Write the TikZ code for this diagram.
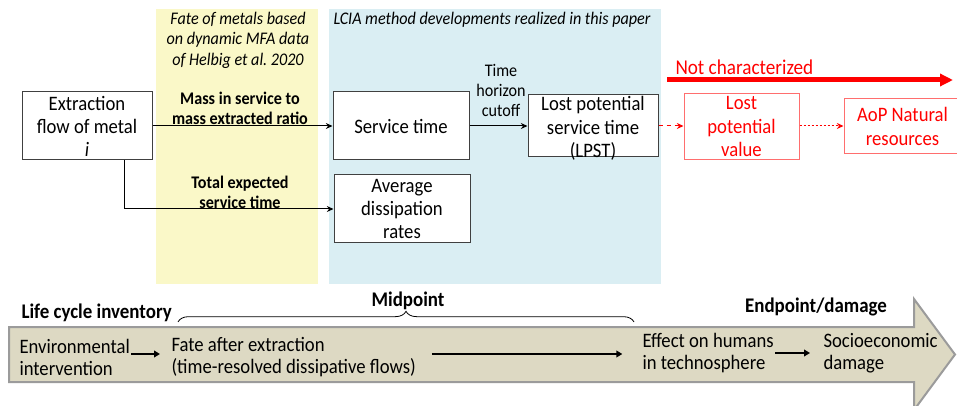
\documentclass[tikz,border=0pt]{standalone}
\usepackage{fontspec}
\setmainfont{Carlito}[FakeStretch=0.91]
\usetikzlibrary{arrows.meta,decorations.pathreplacing}

\definecolor{fateyellow}{RGB}{250,248,200}
\definecolor{lciablue}{RGB}{218,238,243}
\definecolor{notred}{RGB}{255,0,0}
\definecolor{redline}{RGB}{255,110,110}
\definecolor{tanfill}{RGB}{221,217,195}
\definecolor{tanline}{RGB}{155,155,155}
\definecolor{boxline}{RGB}{64,64,64}

\tikzset{every picture/.style={line width=0.75pt}}
\tikzset{
  flowbox/.style={draw=boxline, fill=white, inner sep=0pt, align=center, font=\fontsize{15.4}{17.3}\selectfont},
  redbox/.style={draw=redline, fill=white, inner sep=0pt, align=center, text=notred, font=\fontsize{15.4}{17.5}\selectfont},
  ratiolabel/.style={inner sep=0.75pt, align=center, font=\fontsize{13.3}{15}\selectfont\bfseries},
  headlabel/.style={inner sep=0.75pt, align=center, font=\fontsize{13.3}{15.4}\selectfont\itshape},
  cutlabel/.style={inner sep=0.75pt, align=center, font=\fontsize{13.3}{15}\selectfont},
  stagelabel/.style={inner sep=0.75pt, align=left, font=\fontsize{15.4}{16.5}\selectfont},
  phaselabel/.style={inner sep=0.75pt, font=\fontsize{15.6}{17}\selectfont\bfseries},
  flowarrow/.style={-{Stealth[length=5pt,width=4.5pt]}, draw=black},
  redarrow/.style={-{Stealth[length=5pt,width=4.5pt]}, draw=notred},
  stagearrow/.style={-{Triangle[length=4.5pt,width=5pt]}, line width=1.5pt},
}

\begin{document}
\begin{tikzpicture}[x=0.75pt,y=0.75pt,yscale=-1,xscale=1]
\useasboundingbox (0,0) rectangle (957,406);

%Shape: Rectangle [fate band]
\fill[fateyellow] (156,9) rectangle (318,284);
%Shape: Rectangle [lcia band]
\fill[lciablue] (329,9) rectangle (661,284);

% Text Node
\node[headlabel] (fatehead) at (238,40) {Fate of metals based\\on dynamic MFA data\\of Helbig et al.\ 2020};
% Text Node
\node[headlabel, anchor=west] (lciahead) at (332,20) {LCIA method developments realized in this paper};

%Shape: Rectangle [boxes]
\node[flowbox, minimum width=97.5pt, minimum height=51pt] (extract) at (87,126) {Extraction\\flow of metal\\\textit{i}};
\node[flowbox, minimum width=102pt, minimum height=51pt] (service) at (401,126) {Service time};
\node[flowbox, minimum width=102pt, minimum height=51pt, font=\fontsize{15.4}{17.6}\selectfont] (avgdiss) at (402,209) {Average\\dissipation\\rates};
\node[flowbox, minimum width=97.5pt, minimum height=46.5pt] (lpst) at (593,126) {};
\node[inner sep=0pt, align=center, font=\fontsize{15.4}{17.6}\selectfont] (lpsttext) at (593,128.5) {Lost potential\\service time\\(LPST)};
\node[redbox, minimum width=86.25pt, minimum height=49.5pt] (lpv) at (741.5,126.5) {Lost\\potential\\value};
\node[redbox, minimum width=87.75pt, minimum height=41.25pt] (aop) at (902.5,126.5) {AoP Natural\\resources};

%Straight Lines [connectors]
\draw[flowarrow] (extract) -- (service);
\draw[flowarrow] ([xshift=-21pt]extract.south east) |- (avgdiss.west);
\draw[flowarrow] (service) -- (lpst);
\draw[redarrow, dash pattern={on 3.5pt off 2.5pt}] (lpst) -- (lpst -| lpv.west);
\draw[redarrow, dash pattern={on 1.5pt off 1.5pt}] (lpst -| lpv.east) -- (lpst -| aop.west);

% Text Node
\node[ratiolabel] (massratio) at (240,108) {Mass in service to\\mass extracted ratio};
% Text Node
\node[ratiolabel] (totaltime) at (240,192) {Total expected\\service time};
% Text Node
\node[cutlabel] (cutoff) at (501,90) {Time\\horizon\\cutoff};
% Text Node
\node[inner sep=0.75pt, anchor=west, text=notred, font=\fontsize{15.8}{17}\selectfont] (notchar) at (674,67.5) {Not characterized};
\coordinate (ncstart) at (667,80);
\coordinate (ncend) at (953,80);
\draw[notred, line width=3.75pt, -{Triangle[length=9.75pt,width=9pt]}] (ncstart) -- (ncend);

%Shape: Right Arrow [impact pathway]
\draw[draw=tanline, fill=tanfill, line width=1.5pt] (9,327) -- (914,327) -- (914,299) -- (955,354.5) -- (914,410) -- (914,382) -- (9,382) -- cycle;
%Shape: Brace
\draw[decorate, decoration={brace, amplitude=8pt}, line width=0.6pt] (178,322) -- (634,322);

% Text Node
\node[phaselabel, anchor=west] (lci) at (20,313) {Life cycle inventory};
% Text Node
\node[phaselabel] (midpoint) at (408,301) {Midpoint};
% Text Node
\node[phaselabel] (endpoint) at (816,307) {Endpoint/damage};

% Text Node
\node[stagelabel, anchor=west] (env) at (18,357) {Environmental\\intervention};
\node[stagelabel, anchor=west] (fate) at (170,357) {Fate after extraction\\(time-resolved dissipative flows)};
\node[stagelabel, anchor=west] (effect) at (641,353) {Effect on humans\\in technosphere};
\node[stagelabel, anchor=west] (socio) at (822,353) {Socioeconomic\\damage};

%Straight Lines [stage arrows]
\draw[stagearrow, shorten >=7.5pt] ([yshift=-2.25pt]env.east) -- ([yshift=-2.25pt]env.east -| fate.west);
\draw[stagearrow, shorten <=11pt, shorten >=14pt] ([yshift=-2.25pt]fate.east) -- ([yshift=-2.25pt]fate.east -| effect.west);
\draw[stagearrow, shorten >=9pt] (effect.east) -- (effect.east -| socio.west);
\end{tikzpicture}
\end{document}
